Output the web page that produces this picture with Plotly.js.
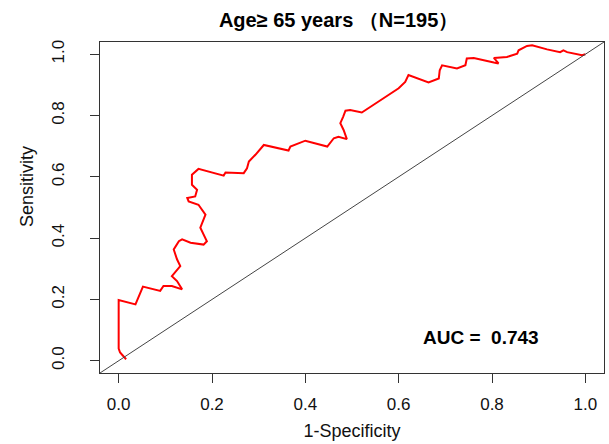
<!DOCTYPE html>
<html>
<head>
<meta charset="utf-8">
<script src="https://cdn.plot.ly/plotly-3.0.1.min.js"></script>
<style>html,body{margin:0;padding:0;background:#fff;}#chart{width:609px;height:444px;}</style>
</head>
<body>
<div id="chart"></div>
<script>
// ROC curve points (1-Specificity, Sensitivity)
const fpr = [0.016, 0.003, 0.000, 0.000, 0.036, 0.052, 0.089, 0.096, 0.114, 0.136,
  0.125, 0.114, 0.132, 0.125, 0.118, 0.129, 0.136, 0.154, 0.182, 0.189,
  0.175, 0.186, 0.171, 0.150, 0.147, 0.164, 0.168, 0.157, 0.157, 0.171,
  0.225, 0.229, 0.268, 0.275, 0.279, 0.293, 0.311, 0.364, 0.368, 0.400,
  0.447, 0.461, 0.471, 0.489, 0.482, 0.475, 0.481, 0.486, 0.496, 0.521,
  0.561, 0.600, 0.614, 0.621, 0.664, 0.686, 0.688, 0.693, 0.725, 0.743,
  0.746, 0.761, 0.804, 0.814, 0.804, 0.832, 0.854, 0.857, 0.875, 0.886,
  0.918, 0.946, 0.953, 0.961, 0.993, 1.000];
const tpr = [0.005, 0.027, 0.040, 0.198, 0.184, 0.242, 0.228, 0.244, 0.244, 0.233,
  0.260, 0.276, 0.309, 0.331, 0.363, 0.390, 0.396, 0.385, 0.379, 0.390,
  0.434, 0.477, 0.509, 0.520, 0.531, 0.536, 0.558, 0.574, 0.607, 0.626,
  0.604, 0.614, 0.612, 0.628, 0.650, 0.672, 0.704, 0.686, 0.699, 0.718,
  0.699, 0.726, 0.731, 0.723, 0.753, 0.775, 0.796, 0.816, 0.818, 0.810,
  0.850, 0.889, 0.910, 0.932, 0.908, 0.921, 0.948, 0.964, 0.954, 0.964,
  0.986, 0.988, 0.973, 0.970, 0.988, 0.991, 1.002, 1.013, 1.027, 1.029,
  1.016, 1.007, 1.013, 1.007, 0.997, 1.000];
const tickVals = [0, 0.2, 0.4, 0.6, 0.8, 1.0];
const tickLabels = ["0.0", "0.2", "0.4", "0.6", "0.8", "1.0"];
const axisRange = [-0.04, 1.04];
const titleText = "Age\u2265 65 years \uFF08N=195\uFF09";
const xTitle = "1-Specificity";
const yTitle = "Sensitivity";
const aucLabel = "AUC =\u00A0\u00A00.743";

const FONT = "Liberation Sans, Arial, Helvetica, sans-serif";

const traces = [{
  x: fpr, y: tpr, type: "scatter", mode: "lines",
  line: {color: "#ff0000", width: 2}, hoverinfo: "skip", showlegend: false
}];

const axisCommon = {
  range: axisRange, autorange: false,
  tickmode: "array", tickvals: tickVals, ticktext: tickLabels,
  ticks: "outside", ticklen: 9, tickwidth: 1, tickcolor: "#333",
  showline: true, mirror: true, linecolor: "#333", linewidth: 1,
  showgrid: false, zeroline: false,
  tickfont: {family: FONT, size: 17, color: "#111"},
  automargin: false
};

const layout = {
  width: 609, height: 444,
  margin: {l: 100, r: 5, t: 42, b: 71},
  paper_bgcolor: "#fff", plot_bgcolor: "#fff",
  title: {text: titleText, font: {family: FONT, size: 20, color: "#000", weight: "bold"},
          x: 0.556, xref: "container", y: 0.955, yref: "container", yanchor: "middle"},
  xaxis: Object.assign({}, axisCommon, {
    title: {text: xTitle, font: {family: FONT, size: 18, color: "#111"}, standoff: 10},
    ticklabelstandoff: 7
  }),
  yaxis: Object.assign({}, axisCommon, {
    tickangle: -90,
    ticklabelstandoff: 19
  }),
  shapes: [{type: "line", xref: "x", yref: "y",
            x0: axisRange[0], y0: axisRange[0], x1: axisRange[1], y1: axisRange[1],
            line: {color: "#444", width: 1}}],
  annotations: [
    {text: "<b>" + aucLabel + "</b>", xref: "x", yref: "y", x: 0.777, y: 0.076,
     showarrow: false, xanchor: "center", yanchor: "middle",
     font: {family: FONT, size: 19, color: "#000"}},
    {text: yTitle, xref: "paper", yref: "paper", x: -0.145, y: 0.565, textangle: -90,
     showarrow: false, xanchor: "center", yanchor: "middle",
     font: {family: FONT, size: 18, color: "#111"}}
  ]
};

Plotly.newPlot("chart", traces, layout, {staticPlot: true, displayModeBar: false});
</script>
</body>
</html>
